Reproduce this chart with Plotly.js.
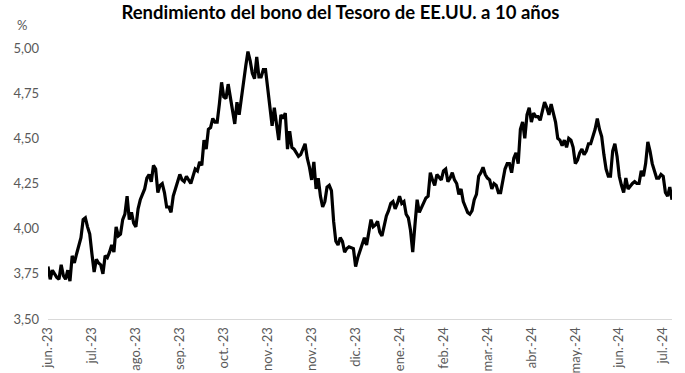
<!DOCTYPE html>
<html>
<head>
<meta charset="utf-8">
<script src="https://cdn.plot.ly/plotly-3.0.1.min.js"></script>
<style>html,body{margin:0;padding:0;background:#fff}#chart{width:685px;height:373px}</style>
</head>
<body>
<div id="chart"></div>
<script>
// Daily 10-year yield, every weekday from 14 Jun 2023 to 16 Jul 2024 (null = market holiday)
const jun23 = [3.79,3.72,3.77,null,3.73,3.72,3.80,3.74,3.72,3.77,3.71,3.85,3.81];
const jul23 = [3.86,null,3.95,4.05,4.06,4.01,3.97,3.86,3.76,3.83,3.81,3.80,3.75,3.85,3.84,3.87,3.91,3.87,4.01,3.96,3.97];
const aug23 = [4.05,4.08,4.18,4.05,4.09,4.03,4.01,4.11,4.16,4.19,4.22,4.28,4.30,4.26,4.35,4.33,4.20,4.24,4.25,4.20,4.12,4.12,4.09];
const sep23 = [4.18,null,4.27,4.30,4.27,4.26,4.29,4.27,4.25,4.29,4.33,4.32,4.37,4.35,4.49,4.44,4.55,4.56,4.61,4.59,4.59];
const oct23 = [4.69,4.81,4.73,4.72,4.80,null,4.66,4.58,4.70,4.63,4.72,4.83,4.90,4.98,4.93,4.86,4.83,4.95,4.84,4.84,4.88,4.88];
const nov23 = [4.77,4.67,4.57,4.67,4.58,4.49,4.63,4.61,4.64,4.44,4.54,4.45,4.44,4.42,4.40,4.41,null,4.47,4.39,4.34,4.27,4.37];
const dec23 = [4.22,4.28,4.18,4.12,4.15,4.23,4.24,4.21,4.04,3.93,3.91,3.95,3.93,3.87,3.89,3.90,null,3.89,3.79,3.84,3.88];
const jan24 = [null,3.95,3.91,3.99,4.05,4.01,4.02,4.04,3.98,3.96,null,4.07,4.10,4.14,4.15,4.11,4.14,4.18,4.14,4.15,4.08,4.06,3.99];
const feb24 = [3.87,4.02,4.16,4.09,4.12,4.15,4.17,4.18,4.31,4.27,4.24,4.30,null,4.27,4.32,4.33,4.26,4.28,4.31,4.27,4.25];
const mar24 = [4.19,4.22,4.15,4.12,4.09,4.08,4.10,4.16,4.19,4.29,4.31,4.34,4.30,4.28,4.27,4.22,4.25,4.24,4.20,4.20,null];
const apr24 = [4.33,4.36,4.36,4.31,4.39,4.42,4.36,4.55,4.59,4.50,4.63,4.67,4.59,4.64,4.62,4.62,4.60,4.65,4.70,4.67,4.63,4.69];
const may24 = [4.63,4.59,4.50,4.49,4.46,4.49,4.45,4.50,4.49,4.45,4.36,4.38,4.42,4.44,4.41,4.43,4.47,4.47,null,4.55,4.61,4.55,4.51];
const jun24 = [4.41,4.33,4.29,4.29,4.43,4.47,4.40,4.29,4.24,4.20,4.28,4.22,null,4.25,4.26,4.25,4.25,4.32,4.29,4.36];
const jul24 = [4.48,4.43,4.36,null,4.28,4.28,4.30,4.29,4.20,4.18,4.23,4.16];

const tickLabels = ["jun.-23","jul.-23","ago.-23","sep.-23","oct.-23","nov.-23","nov.-23","dic.-23","ene.-24","feb.-24","mar.-24","abr.-24","may.-24","jun.-24","jul.-24"];
const labelEvery = 20;

const yields = [].concat(jun23,jul23,aug23,sep23,oct23,nov23,dec23,jan24,feb24,mar24,apr24,may24,jun24,jul24);
const idx = yields.map((_, i) => i);
const tickvals = tickLabels.map((_, i) => i * labelEvery);

const font = "Lato, 'Open Sans', 'Liberation Sans', sans-serif";

Plotly.newPlot('chart', [{
  x: idx, y: yields, type: 'scatter', mode: 'lines',
  connectgaps: true,
  line: {color: '#000000', width: 3.2, shape: 'linear'},
  hoverinfo: 'skip'
}], {
  width: 685, height: 373,
  margin: {l: 48, r: 13, t: 48, b: 54},
  paper_bgcolor: '#ffffff', plot_bgcolor: '#ffffff',
  separators: ',.',
  showlegend: false,
  title: {text: '<b>Rendimiento del bono del Tesoro de EE.UU. a 10 años</b>',
          font: {family: font, size: 18.5, color: '#000000'},
          x: 0.497, xanchor: 'center', y: 0.966, yanchor: 'middle'},
  xaxis: {
    range: [0, yields.length - 1],
    tickmode: 'array', tickvals: tickvals, ticktext: tickLabels,
    tickangle: -90, showgrid: false, zeroline: false,
    showline: true, linecolor: '#d9d9d9', linewidth: 1,
    ticks: '', ticklabelstandoff: 2,
    tickfont: {family: font, size: 13, color: '#595959'}
  },
  yaxis: {
    range: [3.5, 5.0], dtick: 0.25, tick0: 3.5, tickformat: '.2f',
    showgrid: false, zeroline: false, showline: false, ticks: '',
    ticklabelstandoff: 8,
    tickfont: {family: font, size: 13, color: '#595959'}
  },
  annotations: [{
    text: '%', xref: 'paper', yref: 'paper', x: -0.042, y: 1.085,
    xanchor: 'center', yanchor: 'middle', showarrow: false,
    font: {family: font, size: 13, color: '#595959'}
  }]
}, {staticPlot: true});
</script>
</body>
</html>
